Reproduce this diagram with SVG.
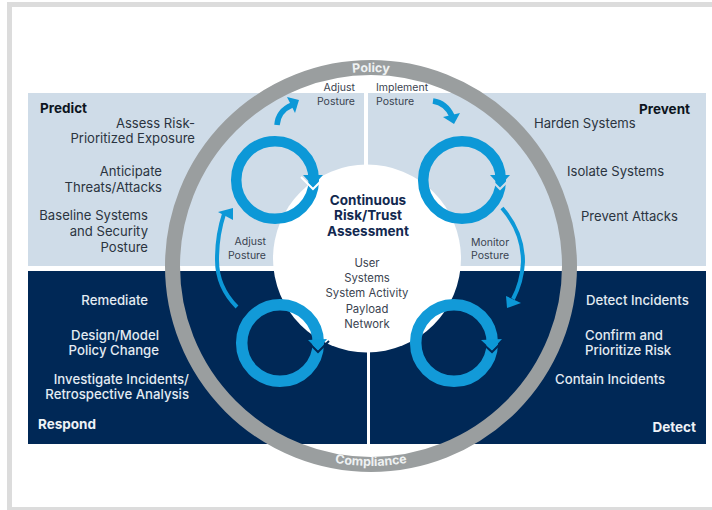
<svg xmlns="http://www.w3.org/2000/svg" width="712" height="510" viewBox="0 0 712 510">
<style>
text{font-family:"Inter","Liberation Sans",sans-serif}
.d{font-size:13.1px;fill:#2b3440}
.l{font-size:13.2px;fill:#e3ebf2;font-weight:500}
.s{font-size:10.5px;fill:#3a4350}
.c{font-size:11.3px;fill:#3a4350;text-anchor:middle}
.h{font-size:13.5px;font-weight:700}
.t{font-size:13.5px;font-weight:700;fill:#12284f;text-anchor:middle}
.e{text-anchor:end}
.ring{fill:none;stroke:#0c98d7;stroke-width:10.5}
.ring2{fill:none;stroke:#129ad8;stroke-width:11.5}
.flow{fill:none;stroke:#0c98d7;stroke-linecap:butt}
.head{fill:#0c98d7}
.band{font-size:12.5px;font-weight:700;fill:#eef1f2;text-anchor:middle}
</style>
<defs>
<path id="topArc" d="M181 266A190 194 0 0 1 561 266"/>
<path id="botArc" d="M171 266A200 200 0 0 0 571 266"/>
</defs>
<rect width="712" height="510" fill="#fff"/>
<g id="frame" fill="#dcdcdc">
<rect x="7" y="2" width="705" height="5"/>
<rect x="7" y="2" width="5" height="508"/>
<rect x="7" y="507" width="705" height="3"/>
</g>
<g id="predict">
<rect x="28" y="93" width="336" height="173" fill="#cfdce8"/>
<text class="h" x="40" y="113" fill="#0d1420">Predict</text>
<text class="d e" x="195" y="128">Assess Risk-</text>
<text class="d e" x="195" y="143">Prioritized Exposure</text>
<text class="d e" x="162" y="176">Anticipate</text>
<text class="d e" x="162" y="192">Threats/Attacks</text>
<text class="d e" x="148" y="220">Baseline Systems</text>
<text class="d e" x="148" y="236">and Security</text>
<text class="d e" x="148" y="252">Posture</text>
</g>
<g id="prevent">
<rect x="368" y="93" width="338" height="173" fill="#cfdce8"/>
<text class="h e" x="690" y="114" fill="#0d1420">Prevent</text>
<text class="d" x="534" y="128">Harden Systems</text>
<text class="d" x="567" y="176">Isolate Systems</text>
<text class="d" x="581" y="221">Prevent Attacks</text>
</g>
<g id="respond">
<rect x="28" y="271" width="339" height="173" fill="#002856"/>
<text class="l e" x="148" y="305">Remediate</text>
<text class="l e" x="159" y="340">Design/Model</text>
<text class="l e" x="159" y="355">Policy Change</text>
<text class="l e" x="189" y="384">Investigate Incidents/</text>
<text class="l e" x="189" y="399">Retrospective Analysis</text>
<text class="h" x="38" y="429" fill="#eef2f6">Respond</text>
</g>
<g id="detect">
<rect x="370" y="271" width="336" height="173" fill="#002856"/>
<text class="l" x="586" y="305">Detect Incidents</text>
<text class="l" x="585" y="340">Confirm and</text>
<text class="l" x="585" y="355">Prioritize Risk</text>
<text class="l" x="555" y="384">Contain Incidents</text>
<text class="h e" x="696" y="432" fill="#eef2f6">Detect</text>
</g>
<g id="ring-band">
<circle cx="371" cy="266" r="198.5" fill="none" stroke="#9a9e9f" stroke-width="15"/>
<text class="band"><textPath href="#topArc" startOffset="50%">Policy</textPath></text>
<text class="band"><textPath href="#botArc" startOffset="50%">Compliance</textPath></text>
</g>
<g id="assessment">
<circle cx="367" cy="258.5" r="94" fill="#fff"/>
<text class="t" x="368" y="205">Continuous</text>
<text class="t" x="368" y="220">Risk/Trust</text>
<text class="t" x="368" y="236">Assessment</text>
<text class="c" x="367" y="267">User</text>
<text class="c" x="367" y="282">Systems</text>
<text class="c" x="367" y="297">System Activity</text>
<text class="c" x="367" y="313">Payload</text>
<text class="c" x="367" y="328">Network</text>
</g>
<g id="cycle-predict">
<circle class="ring" cx="275" cy="180" r="38.8"/>
<path d="M301 177L313 189L325 177" fill="none" stroke="#fff" stroke-width="2"/>
<polygon class="head" points="303,175 323,175 313,186"/>
</g>
<g id="cycle-prevent">
<circle class="ring" cx="462" cy="180" r="38.8"/>
<path d="M488 177L500 189L512 177" fill="none" stroke="#cfdce8" stroke-width="2"/>
<polygon class="head" points="490,175 510,175 500,186"/>
</g>
<g id="cycle-respond">
<circle class="ring2" cx="280" cy="343" r="38.3"/>
<path d="M308 342L318 352L329 341" fill="none" stroke="#002856" stroke-width="2"/>
<polygon class="head" points="308,340 327,339 318,350"/>
</g>
<g id="cycle-detect">
<circle class="ring2" cx="454" cy="343" r="38.3"/>
<path d="M481 342L492 352L503 341" fill="none" stroke="#002856" stroke-width="2"/>
<polygon class="head" points="481,340 502,339 492,350"/>
</g>
<g id="connectors">
<path class="flow" stroke-width="5.5" d="M277 125Q278 111 292 105"/>
<polygon class="head" points="299,100 287,97 295,113"/>
<path class="flow" stroke-width="5.5" d="M433 101Q446 103 452 116"/>
<polygon class="head" points="454,124 443,117 460,113"/>
<path class="flow" stroke-width="4" d="M502 208Q523 232 523 262Q522 282 513 299"/>
<polygon class="head" points="507,308 506,296 521,303"/>
<path class="flow" stroke-width="4" d="M237 307Q217 287 217 260Q217 235 224 214"/>
<polygon class="head" points="233,208 218,212 233,220"/>
</g>
<g id="posture-labels">
<text class="s e" x="355" y="91">Adjust</text>
<text class="s e" x="355" y="105">Posture</text>
<text class="s" x="376" y="91">Implement</text>
<text class="s" x="376" y="105">Posture</text>
<text class="s e" x="266" y="245">Adjust</text>
<text class="s e" x="266" y="259">Posture</text>
<text class="s" x="471" y="246">Monitor</text>
<text class="s" x="471" y="259">Posture</text>
</g>
</svg>
